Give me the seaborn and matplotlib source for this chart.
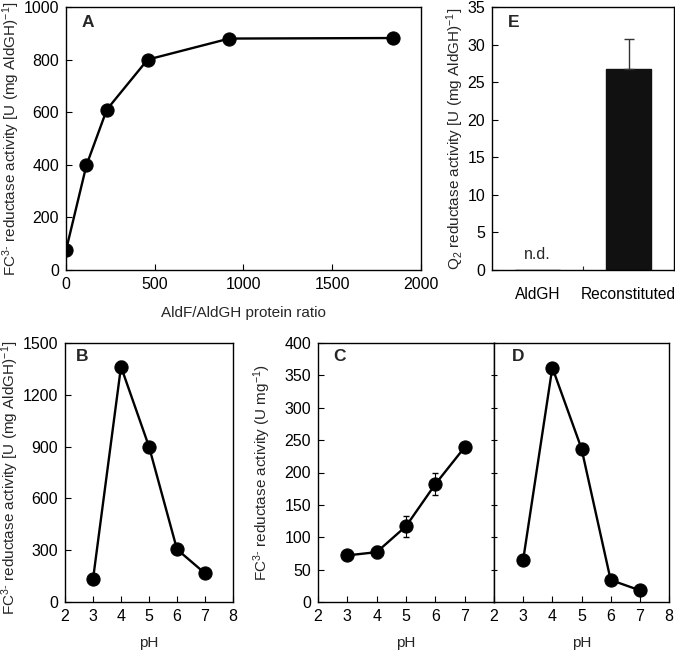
import numpy as np
import pandas as pd
import matplotlib
matplotlib.use("Agg")
import matplotlib.pyplot as plt
import seaborn as sns

# ---- data ----
ratio_A = [0, 115, 230, 460, 920, 1840]
act_A = [75, 398, 610, 800, 880, 882]

ph = [3, 4, 5, 6, 7]
act_B = [131, 1363, 900, 305, 166]
err_B = [10, 30, 15, 12, 10]
act_C = [72, 77, 117, 182, 239]
err_C = [7, 9, 16, 17, 6]
act_D = [65, 362, 237, 34, 18]

cats_E = ["AldGH", "Reconstituted"]
act_E = [0.0, 26.7]
err_E = [0.0, 4.0]

sns.set_style("ticks")
plt.rcParams['font.family'] = ['Liberation Sans', 'DejaVu Sans']
plt.rcParams['mathtext.fontset'] = 'custom'
plt.rcParams['mathtext.rm'] = 'Liberation Sans'
plt.rcParams['mathtext.it'] = 'Liberation Sans:italic'
plt.rcParams['mathtext.bf'] = 'Liberation Sans:bold'
plt.rcParams['axes.linewidth'] = 1.0
plt.rcParams['axes.edgecolor'] = 'black'

W, H = 675, 652
fig = plt.figure(figsize=(W / 100, H / 100), dpi=100)

def ax_px(l, r, t, b):
    return fig.add_axes([l / W, 1 - b / H, (r - l) / W, (b - t) / H])

axA = ax_px(66, 421, 7, 270)
axE = ax_px(492, 674, 7, 270)
axB = ax_px(65, 233, 343, 602)
axC = ax_px(318, 494, 343, 602)
axD = ax_px(494, 669, 343, 602)

TS = 11.5   # tick labels
LS = 11     # axis labels
PS = 12.5   # panel letters
line_kw = dict(color="black", linewidth=1.7, marker="o", markersize=9.5,
               markeredgecolor="black", markerfacecolor="black")

def style(ax):
    for s in ax.spines.values():
        s.set_visible(True)
        s.set_color("black")
        s.set_linewidth(1.0)
    ax.tick_params(direction="in", length=4, width=0.8, labelsize=TS, colors="black", pad=5)

ylab_fc = r"FC$^{3\text{-}}$ reductase activity [U (mg AldGH)$^{-1}$]"

# Panel A
dfA = pd.DataFrame({"ratio": ratio_A, "act": act_A})
sns.lineplot(data=dfA, x="ratio", y="act", ax=axA, **line_kw)
axA.set_xlim(0, 2000)
axA.set_ylim(0, 1000)
axA.set_xticks(np.arange(0, 2001, 500))
axA.set_yticks(np.arange(0, 1001, 200))
axA.set_xlabel("AldF/AldGH protein ratio", fontsize=LS, labelpad=10)
axA.set_ylabel(ylab_fc, fontsize=LS)
axA.yaxis.set_label_coords(-0.125, 0.5)
style(axA)
axA.text(0.045, 0.94, "A", transform=axA.transAxes, fontsize=PS, fontweight="bold", va="center")

# Panel B
dfB = pd.DataFrame({"pH": ph, "act": act_B})
axB.errorbar(ph, act_B, yerr=err_B, fmt="none", ecolor="black", elinewidth=0.8, capsize=2.5)
sns.lineplot(data=dfB, x="pH", y="act", ax=axB, **line_kw)
axB.set_xlim(2, 8)
axB.set_ylim(0, 1500)
axB.set_xticks(range(2, 9))
axB.set_yticks(np.arange(0, 1501, 300))
axB.set_xlabel("pH", fontsize=LS, labelpad=9)
axB.set_ylabel(ylab_fc, fontsize=LS)
axB.yaxis.set_label_coords(-0.262, 0.48)
style(axB)
axB.text(0.065, 0.946, "B", transform=axB.transAxes, fontsize=PS, fontweight="bold", va="center")

# Panel C
dfC = pd.DataFrame({"pH": ph, "act": act_C})
axC.errorbar(ph, act_C, yerr=err_C, fmt="none", ecolor="black", elinewidth=0.8, capsize=2.5)
sns.lineplot(data=dfC, x="pH", y="act", ax=axC, **line_kw)
axC.set_xlim(2, 8)
axC.set_ylim(0, 400)
axC.set_xticks(range(2, 9))
axC.set_xticklabels(["2", "3", "4", "5", "6", "7", ""])
axC.set_yticks(np.arange(0, 401, 50))
axC.set_xlabel("pH", fontsize=LS, labelpad=9)
axC.set_ylabel(r"FC$^{3\text{-}}$ reductase activity (U mg$^{-1}$)", fontsize=LS)
axC.yaxis.set_label_coords(-0.256, 0.5)
style(axC)
axC.text(0.085, 0.946, "C", transform=axC.transAxes, fontsize=PS, fontweight="bold", va="center")

# Panel D
dfD = pd.DataFrame({"pH": ph, "act": act_D})
sns.lineplot(data=dfD, x="pH", y="act", ax=axD, **line_kw)
axD.set_xlim(2, 8)
axD.set_ylim(0, 400)
axD.set_xticks(range(2, 9))
axD.set_yticks(np.arange(0, 401, 50))
axD.set_yticklabels([])
axD.set_xlabel("pH", fontsize=LS, labelpad=9)
axD.set_ylabel("")
style(axD)
axD.tick_params(axis="y", direction="inout", length=5)
axD.text(0.10, 0.946, "D", transform=axD.transAxes, fontsize=PS, fontweight="bold", va="center")

# Panel E
dfE = pd.DataFrame({"cond": cats_E, "act": act_E})
sns.barplot(data=dfE, x="cond", y="act", ax=axE, color="#111111", width=0.5,
            errorbar=None, edgecolor="#111111", saturation=1)
axE.errorbar([1], [act_E[1]], yerr=[[0], [err_E[1]]], fmt="none", ecolor="#333333",
             elinewidth=1.0, capsize=3.5)
axE.set_xlim(-0.5, 1.5)
axE.set_ylim(0, 35)
axE.set_yticks(np.arange(0, 36, 5))
axE.set_xticks([0, 1])
axE.set_xticklabels(cats_E)
axE.set_xticks([0.5], minor=True)
axE.set_xlabel("")
axE.set_ylabel(r"Q$_2$ reductase activity [U (mg AldGH)$^{-1}$]", fontsize=LS)
axE.yaxis.set_label_coords(-0.143, 0.5)
style(axE)
axE.tick_params(axis="x", which="major", length=0, pad=12, labelsize=11.2)
axE.tick_params(axis="x", which="minor", direction="in", length=3, width=0.8)
axE.text(0, 1.0, "n.d.", ha="center", va="bottom", fontsize=11.5)
axE.text(0.088, 0.94, "E", transform=axE.transAxes, fontsize=PS, fontweight="bold", va="center")

fig.savefig("out.png", dpi=100)
